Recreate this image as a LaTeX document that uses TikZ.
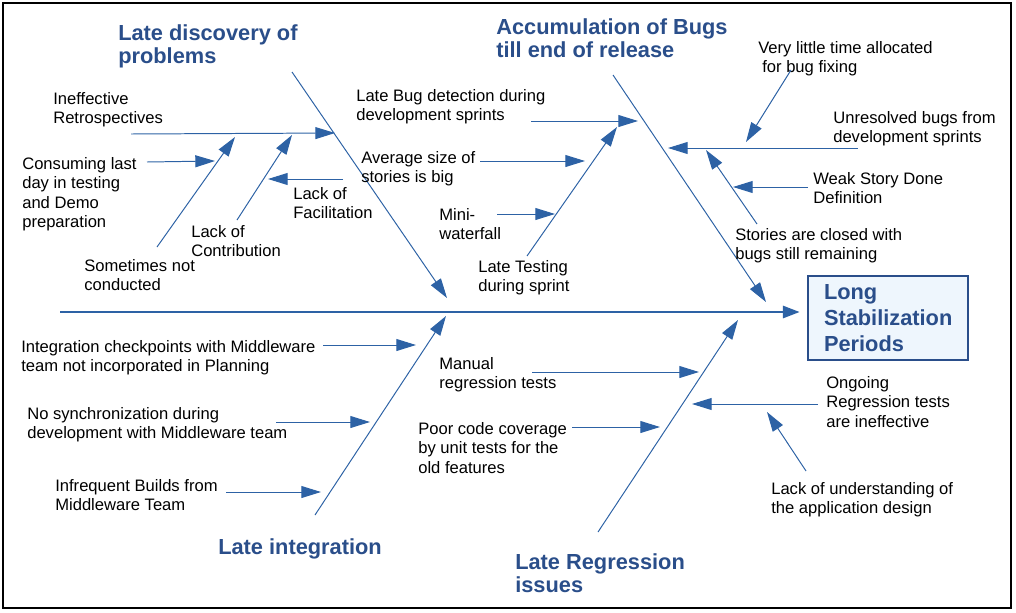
\documentclass[tikz,border=0pt]{standalone}
\usepackage{fontspec}
\setmainfont{Liberation Sans}
\usetikzlibrary{arrows.meta}
\definecolor{bonecolor}{RGB}{45,98,165}
\definecolor{titlecolor}{RGB}{42,78,138}
\definecolor{boxfill}{RGB}{238,246,253}

\begin{document}
\begin{tikzpicture}[x=0.025cm,y=-0.025cm,
  my cause/.style={anchor=north west, inner sep=0, align=left,
    font=\fontsize{11.8}{13.8}\selectfont},
  my title/.style={anchor=north west, inner sep=0, align=left, text=titlecolor,
    font=\fontsize{15.5}{17}\selectfont\bfseries},
  my box/.style={draw=titlecolor, line width=1.4pt, fill=boxfill, text=titlecolor,
    align=left, text width=3.2cm, inner xsep=0.4cm, minimum height=2.1cm,
    font=\fontsize{15.5}{18.5}\selectfont\bfseries},
  my arrow/.style={draw=bonecolor, line width=0.7pt,
    -{Triangle[length=14pt,width=8.5pt]}},
  my spine/.style={draw=bonecolor, line width=2pt,
    -{Triangle[length=12pt,width=8.5pt]}, shorten >=0.18cm},
  ]
  \useasboundingbox (0,0) rectangle (1016,612);
  \draw[line width=0.8pt] (3,3) rectangle (1011,608);

  % effect and spine
  \node[my box] (effect) at (888,318) {Long\\Stabilization\\Periods};
  \coordinate (tail) at (60,312);
  \draw[my spine] (tail) -- (effect.west |- tail);

  % titles
  \node[my title] (late discovery) at (118,24) {Late discovery of\\problems};
  \node[my title] (accumulation) at (496,18) {Accumulation of Bugs\\till end of release};
  \node[my title] (late integration) at (218,538) {Late integration};
  \node[my title] (late regression) at (515,553) {Late Regression\\issues};

  % bones
  \coordinate (b1s) at (292,72);  \coordinate (b1e) at (447,298);
  \coordinate (b2s) at (613,75);  \coordinate (b2e) at (766,302);
  \coordinate (b3s) at (315,515); \coordinate (b3e) at (446,316);
  \coordinate (b4s) at (598,532); \coordinate (b4e) at (738,320);
  \foreach \b in {1,...,4}
    \draw[my arrow] (b\b s) -- (b\b e);

  % late discovery of problems
  \node[my cause] (retro) at (53,92) {Ineffective\\Retrospectives};
  \node[my cause] (consuming) at (22,157) {Consuming last\\day in testing\\and Demo\\preparation};
  \node[my cause] (sometimes) at (84,259) {Sometimes not\\conducted};
  \node[my cause] (contribution) at (191,225) {Lack of\\Contribution};
  \node[my cause] (facilitation) at (293,187) {Lack of\\Facilitation};
  \coordinate (c11s) at (131,134); \coordinate (c11e) at (335,133);
  \coordinate (c12s) at (147,162); \coordinate (c12e) at (215,161);
  \coordinate (c13s) at (157,247); \coordinate (c13e) at (235,137);
  \coordinate (c14s) at (237,220); \coordinate (c14e) at (292,135);
  \coordinate (c15s) at (343,179); \coordinate (c15e) at (268,179);

  % accumulation of bugs
  \node[my cause] (late bug) at (356,89) {Late Bug detection during\\development sprints};
  \node[my cause] (avg size) at (361,151) {Average size of\\stories is big};
  \node[my cause] (mini) at (439,208) {Mini-\\waterfall};
  \node[my cause] (late testing) at (478,260) {Late Testing\\during sprint};
  \node[my cause] (little time) at (758,41) {Very little time allocated\\\hspace*{0.1cm}for bug fixing};
  \node[my cause] (unresolved) at (833,111) {Unresolved bugs from\\development sprints};
  \node[my cause] (weak story) at (813,172) {Weak Story Done\\Definition};
  \node[my cause] (closed) at (735,228) {Stories are closed with\\bugs still remaining};
  \coordinate (c21s) at (531,121); \coordinate (c21e) at (638,121);
  \coordinate (c22s) at (480,161); \coordinate (c22e) at (585,161);
  \coordinate (c23s) at (497,214); \coordinate (c23e) at (555,214);
  \coordinate (c24s) at (527,256); \coordinate (c24e) at (617,127);
  \coordinate (c25s) at (791,70);  \coordinate (c25e) at (746,142);
  \coordinate (c26s) at (858,148); \coordinate (c26e) at (668,148);
  \coordinate (c27s) at (808,187); \coordinate (c27e) at (733,187);
  \coordinate (c28s) at (757,224); \coordinate (c28e) at (706,150);

  % late integration
  \node[my cause] (checkpoints) at (21,340) {Integration checkpoints with Middleware\\team not incorporated in Planning};
  \node[my cause] (no sync) at (27,407) {No synchronization during\\development with Middleware team};
  \node[my cause] (builds) at (55,479) {Infrequent Builds from\\Middleware Team};
  \coordinate (c31s) at (323,345); \coordinate (c31e) at (416,345);
  \coordinate (c32s) at (276,422); \coordinate (c32e) at (370,422);
  \coordinate (c33s) at (226,492); \coordinate (c33e) at (321,492);

  % late regression issues
  \node[my cause] (manual) at (439,357) {Manual\\regression tests};
  \node[my cause] (coverage) at (418,422) {Poor code coverage\\by unit tests for the\\old features};
  \node[my cause] (ongoing) at (826,376) {Ongoing\\Regression tests\\are ineffective};
  \node[my cause] (design) at (771,482) {Lack of understanding of\\the application design};
  \coordinate (c41s) at (532,372); \coordinate (c41e) at (699,372);
  \coordinate (c42s) at (572,427); \coordinate (c42e) at (660,427);
  \coordinate (c43s) at (818,404); \coordinate (c43e) at (692,404);
  \coordinate (c44s) at (806,471); \coordinate (c44e) at (767,412);

  \foreach \c in {11,12,13,14,15,21,22,23,24,25,26,27,28,31,32,33,41,42,43,44}
    \draw[my arrow] (c\c s) -- (c\c e);
\end{tikzpicture}
\end{document}
